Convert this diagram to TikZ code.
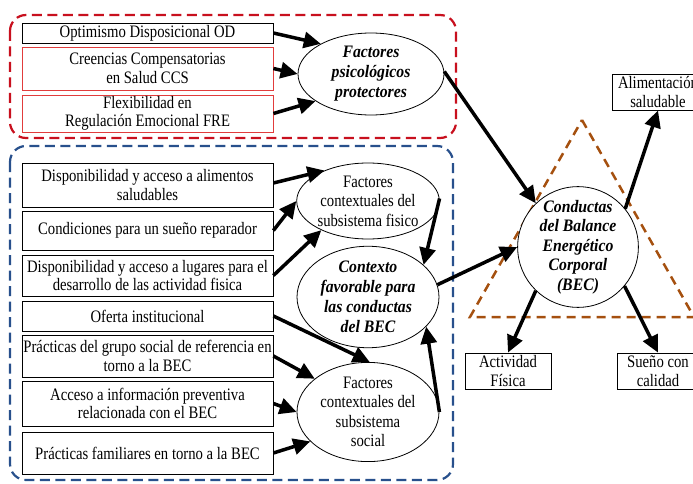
\documentclass[tikz,border=0pt]{standalone}
\usepackage{fontspec}
\setmainfont{Liberation Serif}[FakeStretch=0.84]
\newfontfamily\bifont{Liberation Serif}[FakeStretch=0.9]
\usetikzlibrary{arrows.meta,shapes.geometric,calc}
\definecolor{redd}{RGB}{200,16,30}
\definecolor{redb}{RGB}{225,60,60}
\definecolor{blued}{RGB}{40,80,140}
\definecolor{brownd}{RGB}{165,80,15}
\tikzset{
  txt/.style={font=\fontsize{17.5}{18.5}\selectfont, align=center},
  lbox/.style={txt, draw=black, line width=0.8pt, inner sep=0pt, minimum width=251pt},
  rbox/.style={lbox, draw=redb},
  sbox/.style={txt, draw=black, line width=0.8pt, inner sep=0pt},
  ell/.style={ellipse, draw, fill=white, line width=0.8pt, inner sep=0pt, font=\fontsize{17.5}{19.5}\selectfont, align=center},
  bell/.style={ell, font=\fontsize{17.5}{20}\bifont\bfseries\itshape},
  arr/.style={line width=3.5pt, -{Triangle[length=17pt,width=16pt]}},
  frame/.style={line width=2.2pt, dash pattern=on 10pt off 5.5pt, rounded corners=16pt},
}
\begin{document}
\begin{tikzpicture}[x=1pt,y=-1pt]
\useasboundingbox (0,0) rectangle (693,484);
\clip (0,0) rectangle (693,484);
% frames
\draw[frame, redd] (10,15) rectangle (456,138);
\draw[frame, blued] (10,146) rectangle (453,480);
% triangle
\draw[brownd, line width=2.5pt, dash pattern=on 9pt off 6pt] (582,120) -- (694,317) -- (470,317) -- cycle;
% red group boxes
\node[lbox, minimum height=20pt] (od) at (147.5,33) {Optimismo Disposicional OD};
\node[rbox, minimum height=43pt] (ccs) at (147.5,68.5) {Creencias Compensatorias\\en Salud CCS};
\node[rbox, minimum height=37pt] (fre) at (147.5,113.5) {Flexibilidad en\\Regulación Emocional FRE};
% blue group boxes
\node[lbox, minimum height=44pt] (ali) at (147.5,185) {Disponibilidad y acceso a alimentos\\saludables};
\node[lbox, minimum height=39pt] (sue) at (147.5,230.5) {Condiciones para un sueño reparador};
\node[lbox, minimum height=41pt] (lug) at (147.5,275.5) {Disponibilidad y acceso a lugares para el\\desarrollo de las actividad fisica};
\node[lbox, minimum height=30pt] (ofe) at (147.5,316) {Oferta institucional};
\node[lbox, minimum height=42pt] (pgs) at (147.5,356) {Prácticas del grupo social de referencia en\\torno a la BEC};
\node[lbox, minimum height=45pt] (aip) at (147.5,403.5) {Acceso a información preventiva\\relacionada con el BEC};
\node[lbox, minimum height=42pt] (pfa) at (147.5,453) {Prácticas familiares en torno a la BEC};
% ellipses
\node[bell, minimum width=146pt, minimum height=82pt] (ep) at (371,74) {Factores\\psicológicos\\protectores};
\node[ell, minimum width=142pt, minimum height=76pt] (ef) at (368,201) {Factores\\contextuales del\\subsistema fisico};
\node[bell, minimum width=142pt, minimum height=76pt] (ec) at (368,297) {Contexto\\favorable para\\las conductas\\del BEC};
\node[ell, minimum width=142pt, minimum height=82pt] (es) at (368,412) {Factores\\contextuales del\\subsistema\\social};
\node[circle, draw, fill=white, line width=0.8pt, minimum size=117pt, inner sep=0pt, align=center, font=\fontsize{17.5}{19.5}\bifont\bfseries\itshape] (bec) at (578,247) {Conductas\\del Balance\\Energético\\Corporal\\(BEC)};
% outcome boxes
\node[sbox, minimum width=92pt, minimum height=36pt] (oal) at (658,92) {Alimentación\\saludable};
\node[sbox, minimum width=86pt, minimum height=36pt] (oac) at (508,371) {Actividad\\Física};
\node[sbox, minimum width=82pt, minimum height=36pt] (osu) at (658,371) {Sueño con\\calidad};
% arrows
\draw[arr] (od.east) -- (ep.149);
\draw[arr] (ccs.east) -- (ep.180);
\draw[arr] (fre.east) -- (ep.206);
\draw[arr] (ep.2) -- (bec.134);
\draw[arr] ($(ali.east)+(0,-2)$) -- (ef.145);
\draw[arr] (sue.east) -- (ef.180);
\draw[arr] (lug.east) -- (ef.212);
\draw[arr] (ef.2) -- (ec.30);
\draw[arr] (ofe.east) -- (es.88);
\draw[arr] (pgs.east) -- (es.148);
\draw[arr] (aip.east) -- (es.180);
\draw[arr] (pfa.east) -- (es.207);
\draw[arr] (es.0) -- (ec.333);
\draw[arr] (ec.10) -- (bec.180);
\draw[arr] (bec.39) -- (oal.south);
\draw[arr] (bec.226) -- (oac.north);
\draw[arr] (bec.320) -- (osu.north);
\end{tikzpicture}
\end{document}
